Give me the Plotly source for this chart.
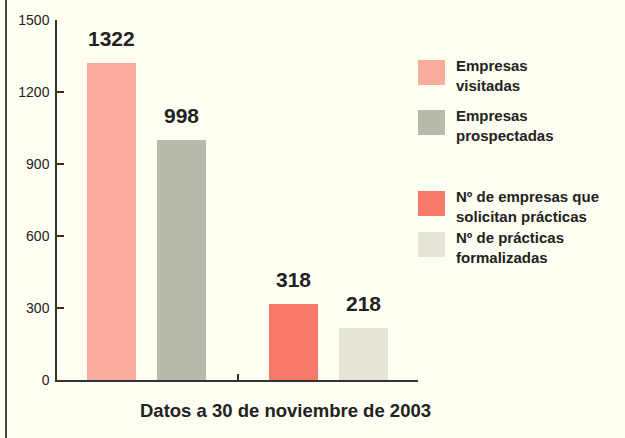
import plotly.graph_objects as go

# data
series = ["Empresas visitadas", "Empresas prospectadas",
          "Nº de empresas que solicitan prácticas", "Nº de prácticas formalizadas"]
legend_lines = [["Empresas", "visitadas"], ["Empresas", "prospectadas"],
                ["Nº de empresas que", "solicitan prácticas"], ["Nº de prácticas", "formalizadas"]]
values = [1322, 998, 318, 218]
x_pos = [0.303, 0.692, 1.308, 1.70]
colors = ["#f9ab9c", "#b7bbae", "#f8786a", "#e5e4d6"]
ytick_vals = [0, 300, 600, 900, 1200, 1500]

BG = "#fefef2"
FONT = "Liberation Sans"
INK = "#222222"

# plot area in pixels
L, R, T, B = 57, 418, 20, 380
W, H = 625, 438


def px_x(x):
    return (x - L) / (R - L)


def px_y(y):
    return (B - y) / (B - T)


fig = go.Figure()
for i in range(len(values)):
    fig.add_trace(go.Bar(x=[x_pos[i]], y=[values[i]], width=0.272, name=series[i],
                         marker=dict(color=colors[i], line=dict(width=0)),
                         showlegend=False))
    fig.add_annotation(x=x_pos[i], y=values[i], text="<b>%d</b>" % values[i], showarrow=False,
                       yanchor="bottom", yshift=11,
                       font=dict(family=FONT, size=21, color=INK))

# legend drawn by hand (big square swatches)
sw_top = [60, 110, 191, 232]
for i in range(len(series)):
    fig.add_shape(type="rect", xref="paper", yref="paper",
                  x0=px_x(418), x1=px_x(445), y0=px_y(sw_top[i]), y1=px_y(sw_top[i] + 25),
                  fillcolor=colors[i], line=dict(width=0))
    fig.add_annotation(xref="paper", yref="paper", x=px_x(454), y=px_y(sw_top[i] - 5),
                       xanchor="left", yanchor="top", align="left", showarrow=False,
                       text="<b>" + "<br>".join(legend_lines[i]) + "</b>",
                       font=dict(family=FONT, size=15, color=INK))

# left page border
fig.add_shape(type="line", xref="paper", yref="paper",
              x0=px_x(6), x1=px_x(6), y0=px_y(0), y1=px_y(H),
              line=dict(color="#444444", width=2))

fig.add_annotation(xref="paper", yref="paper", x=px_x(285), y=px_y(411),
                   xanchor="center", yanchor="middle",
                   text="<b>Datos a 30 de noviembre de 2003</b>", showarrow=False,
                   font=dict(family=FONT, size=18.5, color=INK))

fig.update_layout(
    width=W, height=H,
    margin=dict(l=L, r=W - R, t=T, b=H - B),
    paper_bgcolor=BG, plot_bgcolor=BG,
    font=dict(family=FONT, color=INK),
    bargap=0,
)
fig.update_xaxes(range=[0, 2], tickvals=[1, 2], ticktext=["", ""], ticks="inside",
                 ticklen=6, tickcolor="#333333", tickwidth=1.5,
                 showline=True, linecolor="#333333", linewidth=1.5,
                 showgrid=False, zeroline=False)
fig.update_yaxes(range=[0, 1500], tickvals=ytick_vals, ticks="inside", ticklen=7,
                 tickcolor="#333333", tickwidth=1.5,
                 showline=True, linecolor="#333333", linewidth=1.5,
                 showgrid=False, zeroline=False,
                 tickfont=dict(family=FONT, size=14, color=INK), ticklabelstandoff=3)

fig.write_html("out.html", config={"displayModeBar": False},
               post_script="document.body.style.margin='0';")
